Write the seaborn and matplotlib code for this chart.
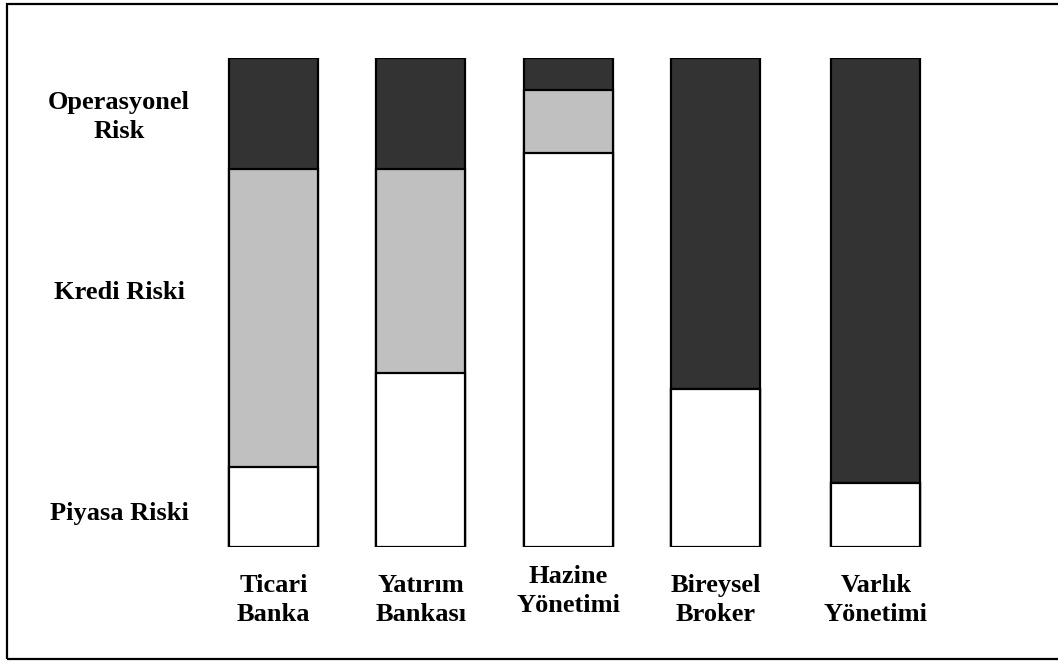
import matplotlib
matplotlib.use("Agg")
import matplotlib.pyplot as plt
import matplotlib.patches as mpatches
import matplotlib.transforms as mtransforms
import numpy as np
import pandas as pd
import seaborn as sns

# Business lines and their risk mix (percent of total risk)
business_lines = ["Ticari\nBanka", "Yatırım\nBankası", "Hazine\nYönetimi", "Bireysel\nBroker", "Varlık\nYönetimi"]
piyasa_riski = [16.3, 35.5, 80.6, 32.2, 13.0]
kredi_riski = [61.0, 41.8, 12.8, 0.0, 0.0]
operasyonel_risk = [22.7, 22.7, 6.6, 67.8, 87.0]
risk_labels = ["Piyasa Riski", "Kredi Riski", "Operasyonel\nRisk"]

# horizontal placement of the columns
bar_pos = [0.0, 1.0, 2.0, 3.0, 4.09]

sns.set_theme(style="white")
plt.rcParams["font.family"] = ["Liberation Serif", "DejaVu Serif"]

df = pd.DataFrame({
    "pos": bar_pos,
    "line": business_lines,
    "piyasa": piyasa_riski,
    "kredi": kredi_riski,
    "oper": operasyonel_risk,
})
df["cum_kredi"] = df["piyasa"] + df["kredi"]
df["cum_total"] = df["cum_kredi"] + df["oper"]

fig = plt.figure(figsize=(10.58, 6.61), dpi=100)
ax = fig.add_axes([0.189, 0.1729, 0.7098, 0.7394])

bar_kw = dict(native_scale=True, width=0.604, edgecolor="black", linewidth=1.6,
              errorbar=None, ax=ax, zorder=2)
# stacked segments drawn as overlapping cumulative bars, tallest first
sns.barplot(data=df, x="pos", y="cum_total", color="#333333", saturation=1, **bar_kw)
sns.barplot(data=df, x="pos", y="cum_kredi", color="#c0c0c0", saturation=1, **bar_kw)
sns.barplot(data=df, x="pos", y="piyasa", color="#ffffff", saturation=1, **bar_kw)

ax.set_xlim(-0.5, 4.6)
ax.set_ylim(0, 100)
ax.set_xlabel("")
ax.set_ylabel("")
ax.set_xticks([])
ax.set_yticks([])
for s in ax.spines.values():
    s.set_visible(False)

txt_kw = dict(fontsize=19, fontweight="bold", ha="center", va="center",
              color="black", linespacing=1.35, clip_on=False)

# category labels under each column
blend = mtransforms.blended_transform_factory(ax.transData, ax.transAxes)
label_y = [-0.109, -0.109, -0.091, -0.109, -0.109]
for x, name, ly in zip(bar_pos, business_lines, label_y):
    ax.text(x, ly, name, transform=blend, **txt_kw)

# risk type labels on the left
risk_y = [6.7, 52.1, 87.9]
for name, ry in zip(risk_labels, risk_y):
    ax.text(-1.049, ry, name, **txt_kw)

# outer frame
fig.patches.append(mpatches.Rectangle((7 / 1058, 2 / 661), 1.2, 655 / 661,
                                      transform=fig.transFigure, fill=False,
                                      edgecolor="black", linewidth=1.6))

fig.savefig("out.png", dpi=100, facecolor="white")
